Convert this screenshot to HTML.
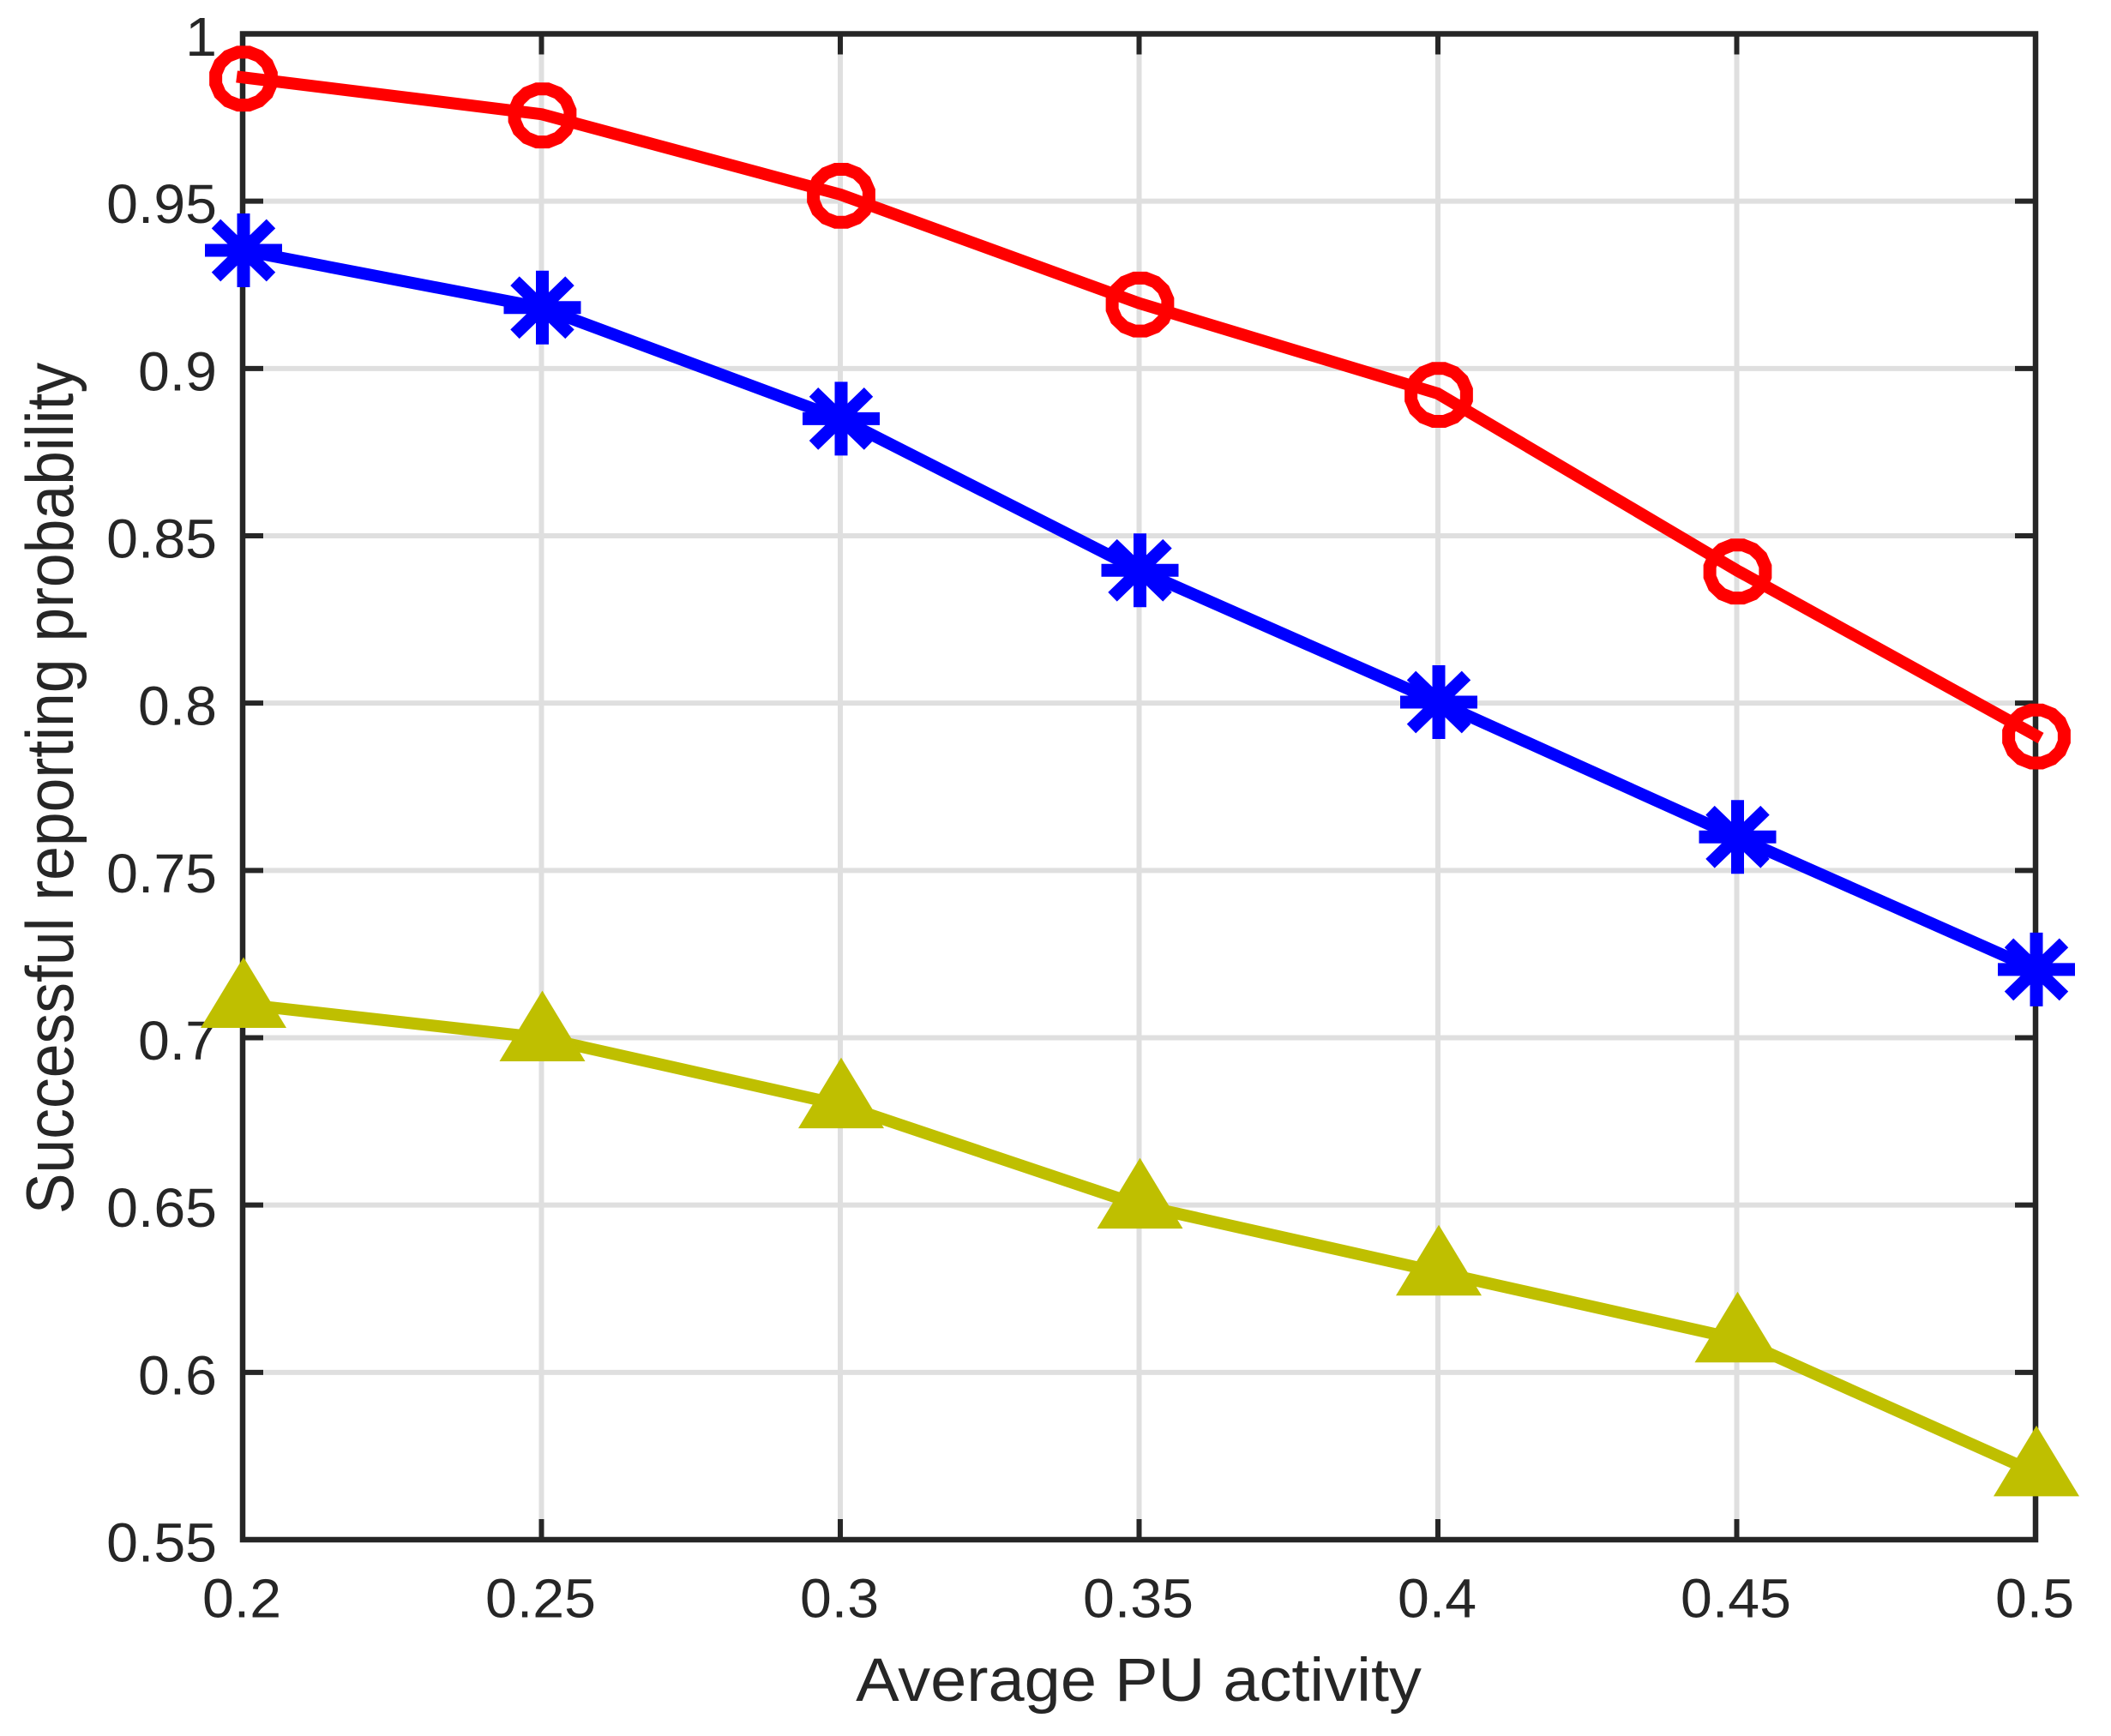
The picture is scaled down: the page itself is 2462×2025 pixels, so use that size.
<!DOCTYPE html>
<html lang="en">
<head>
<meta charset="utf-8">
<title>Successful reporting probability vs average PU activity</title>
<style>
html,body{margin:0;padding:0;background:#fff;width:2462px;height:2025px;overflow:hidden}
svg{display:block}
text{font-family:"Liberation Sans",Arial,sans-serif;fill:#262626}
</style>
</head>
<body>
<svg id="chart" xmlns="http://www.w3.org/2000/svg" width="2462" height="2025" viewBox="0 0 2462 2025"></svg>
<script>
const xValues = [0.2, 0.25, 0.3, 0.35, 0.4, 0.45, 0.5];
const redValues = [0.987, 0.976, 0.952, 0.9195, 0.8925, 0.8397, 0.7904];
const blueValues = [0.9353, 0.9182, 0.885, 0.8397, 0.8003, 0.76, 0.7204];
const yellowValues = [0.71, 0.70, 0.68, 0.65, 0.63, 0.61, 0.57];
const xTickLabels = ["0.2", "0.25", "0.3", "0.35", "0.4", "0.45", "0.5"];
const yTickLabels = ["1", "0.95", "0.9", "0.85", "0.8", "0.75", "0.7", "0.65", "0.6", "0.55"];

const plot = {left: 283, right: 2374, top: 39.5, bottom: 1796};
const xMin = 0.2, xMax = 0.5, yMin = 0.55, yMax = 1;
const sx = v => plot.left + (v - xMin) / (xMax - xMin) * (plot.right - plot.left);
const sy = v => plot.bottom - (v - yMin) / (yMax - yMin) * (plot.bottom - plot.top);

const svg = document.getElementById('chart');
const NS = 'http://www.w3.org/2000/svg';
function make(tag, attrs, parent) {
  const el = document.createElementNS(NS, tag);
  for (const k in attrs) el.setAttribute(k, attrs[k]);
  (parent || svg).appendChild(el);
  return el;
}

const AXIS = '#262626', GRID = '#dfdfdf', TICK_LEN = 24;

/* gridlines */
const gridGroup = make('g', {stroke: GRID, 'stroke-width': 6});


xTickLabels.forEach(function (t) {
  const x = sx(parseFloat(t));
  const l = make('line', {x1: x, x2: x, y1: plot.top, y2: plot.bottom}, gridGroup);
  
  
});
yTickLabels.forEach(function (t) {
  const y = sy(parseFloat(t));
  const l = make('line', {x1: plot.left, x2: plot.right, y1: y, y2: y}, gridGroup);
  
  
});

/* ticks */
const tickGroup = make('g', {stroke: AXIS, 'stroke-width': 6});


xTickLabels.forEach(function (t) {
  const x = sx(parseFloat(t));
  const a = make('line', {x1: x, x2: x, y1: plot.bottom, y2: plot.bottom - TICK_LEN}, tickGroup);
  
  
  const b = make('line', {x1: x, x2: x, y1: plot.top, y2: plot.top + TICK_LEN}, tickGroup);
  
  
});
yTickLabels.forEach(function (t) {
  const y = sy(parseFloat(t));
  const a = make('line', {x1: plot.left, x2: plot.left + TICK_LEN, y1: y, y2: y}, tickGroup);
  
  
  const b = make('line', {x1: plot.right, x2: plot.right - TICK_LEN, y1: y, y2: y}, tickGroup);
  
  
});

/* axes box */
const box = make('rect', {x: plot.left, y: plot.top, width: plot.right - plot.left, height: plot.bottom - plot.top, fill: 'none', stroke: AXIS, 'stroke-width': 6.5});



/* tick labels */
function label(str, x, y, size, anchor, stretch) {
  const t = make('text', {transform: 'translate(' + x + ',' + y + ') scale(' + stretch + ',1)', 'font-size': size, 'text-anchor': anchor});
  t.textContent = str;
  return t;
}
xTickLabels.forEach(function (s) {
  const t = label(s, sx(parseFloat(s)) - 1, 1886.5, 64, 'middle', 1.035);
  
  
});
yTickLabels.forEach(function (s) {
  const t = label(s, 253, sy(parseFloat(s)) + 25.5, 64, 'end', 1.035);
  
  
});

/* axis titles */
const xTitle = label('Average PU activity', 1328, 1984, 71.5, 'middle', 1.06);


const yTitle = make('text', {transform: 'translate(85,919.5) scale(1.09,1) rotate(-90)', 'font-size': 71.5, 'text-anchor': 'middle'});
yTitle.textContent = 'Successful reporting probability';



/* series */
const LINE_W = 14;
function drawLine(values, color, parent) {
  const pts = values.map(function (v, i) { return sx(xValues[i]) + ',' + sy(v); }).join(' ');
  return make('polyline', {points: pts, fill: 'none', stroke: color, 'stroke-width': LINE_W, 'stroke-linecap': 'square', 'stroke-linejoin': 'round'}, parent);
}
function circleMarker(x, y, color, parent) {
  const n = 16, pts = [];
  for (let i = 0; i < n; i++) {
    const a = (i + 0.5) / n * 2 * Math.PI;
    pts.push((x + 33 * Math.cos(a)) + ',' + (y + 31.5 * Math.sin(a)));
  }
  return make('polygon', {points: pts.join(' '), fill: 'none', stroke: color, 'stroke-width': 15}, parent);
}
function starMarker(x, y, color, parent) {
  const d = 'M' + (x - 45) + ' ' + y + 'H' + (x + 45) +
            'M' + x + ' ' + (y - 43) + 'V' + (y + 43) +
            'M' + (x - 32) + ' ' + (y - 31) + 'L' + (x + 32) + ' ' + (y + 31) +
            'M' + (x - 32) + ' ' + (y + 31) + 'L' + (x + 32) + ' ' + (y - 31);
  return make('path', {d: d, fill: 'none', stroke: color, 'stroke-width': 15}, parent);
}
function triangleMarker(x, y, color, parent) {
  const pts = x + ',' + (y - 55) + ' ' + (x + 50) + ',' + (y + 27.5) + ' ' + (x - 50) + ',' + (y + 27.5);
  return make('polygon', {points: pts, fill: color}, parent);
}

const redGroup = make('g', {});


const redLine = drawLine(redValues, '#ff0000', redGroup);


redValues.forEach(function (v, i) {
  const m = circleMarker(sx(xValues[i]) + 1, sy(v) + 1.5, '#ff0000', redGroup);
  
  
});

const blueGroup = make('g', {});


const blueLine = drawLine(blueValues, '#0000ff', blueGroup);


blueValues.forEach(function (v, i) {
  const m = starMarker(sx(xValues[i]) + 1, sy(v), '#0000ff', blueGroup);
  
  
});

const yellowGroup = make('g', {});


const yellowLine = drawLine(yellowValues, '#bfbf00', yellowGroup);


yellowValues.forEach(function (v, i) {
  const m = triangleMarker(sx(xValues[i]) + 1, sy(v), '#bfbf00', yellowGroup);
  
  
});
</script>
</body>
</html>
